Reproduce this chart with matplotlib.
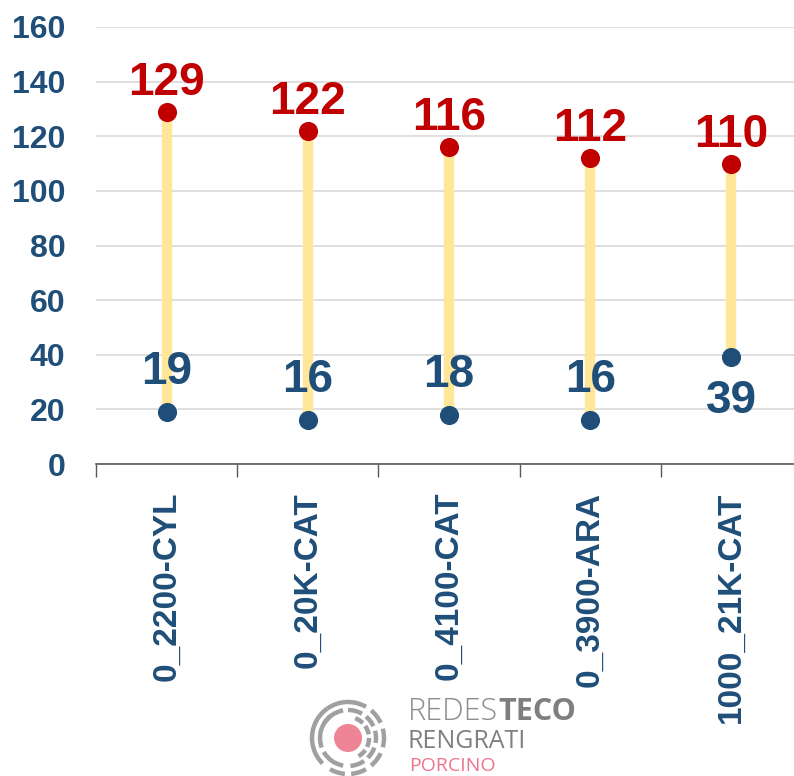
import matplotlib.pyplot as plt
from matplotlib.patches import Circle, Arc

# data
categories = ["0_2200-CYL", "0_20K-CAT", "0_4100-CAT", "0_3900-ARA", "1000_21K-CAT"]
high_vals = [129, 122, 116, 112, 110]
low_vals = [19, 16, 18, 16, 39]
low_label_below = [False, False, False, False, True]
y_ticks = [0, 20, 40, 60, 80, 100, 120, 140, 160]

NAVY = "#1F4E79"
RED = "#C00000"
STEM = "#FFE699"

plt.rcParams['font.family'] = ['Liberation Sans', 'DejaVu Sans']

fig = plt.figure(figsize=(7.94, 7.76), dpi=100)
ax = fig.add_axes([96 / 794, 312 / 776, 706 / 794, 437 / 776])

x = list(range(len(categories)))
ax.vlines(x, low_vals, high_vals, color=STEM, linewidth=7.5, zorder=2)
ax.scatter(x, high_vals, s=190, color=RED, zorder=3, linewidths=0)
ax.scatter(x, low_vals, s=190, color=NAVY, zorder=3, linewidths=0)

for xi, hv, lv, below in zip(x, high_vals, low_vals, low_label_below):
    ax.annotate(str(hv), (xi, hv), xytext=(0, 29), textcoords='offset pixels',
                ha='center', va='center', fontsize=33, fontweight='bold', color=RED)
    dy = -44 if below else 40
    ax.annotate(str(lv), (xi, lv), xytext=(0, dy), textcoords='offset pixels',
                ha='center', va='center', fontsize=33, fontweight='bold', color=NAVY)

ax.set_xlim(-0.5, len(categories) - 0.5)
ax.set_ylim(0, 160)
ax.set_yticks(y_ticks)
ax.set_yticklabels([str(v) for v in y_ticks], fontsize=23, fontweight='bold', color=NAVY)
ax.tick_params(axis='y', length=0, pad=22)
ax.yaxis.grid(True, color="#D9D9D9", linewidth=1.2)
ax.set_axisbelow(True)

ax.set_xticks(x)
ax.set_xticklabels(categories, rotation=90, fontsize=24, fontweight='bold', color=NAVY)
ax.set_xticks([i - 0.5 for i in range(len(categories) + 1)], minor=True)
ax.tick_params(axis='x', which='major', length=0, pad=20)
ax.tick_params(axis='x', which='minor', length=9, width=1, color="#595959", direction='out')

for s in ['left', 'right', 'top']:
    ax.spines[s].set_visible(False)
ax.spines['bottom'].set_color("#595959")
ax.spines['bottom'].set_linewidth(1.2)

# logo
lg = fig.add_axes([0, 0, 1, 1])
lg.set_xlim(0, 794)
lg.set_ylim(776, 0)
lg.axis('off')
cx, cy = 348, 738
lg.add_patch(Circle((cx, cy), 14, color="#EE8596", lw=0))
gray = "#A0A0A0"
# y axis is inverted, so angles run clockwise on screen
rings = [
    (21, [(-70, -45), (-35, -10), (0, 25), (35, 60)]),
    (28, [(-150, -100), (-90, -60), (-50, -25), (-15, 10), (20, 45), (55, 85), (100, 150), (160, 230)]),
    (36, [(-125, -60), (-50, -25), (-15, 15), (25, 50), (60, 85), (95, 120), (135, 235)]),
]
for r, segs in rings:
    for a1, a2 in segs:
        lg.add_patch(Arc((cx, cy), 2 * r, 2 * r, theta1=a1, theta2=a2, color=gray, lw=3.2))
t1 = lg.text(408, 712, "REDES", fontsize=22, color="#8C8C8C", ha='left', va='center',
             family=['Open Sans', 'DejaVu Sans'], fontweight='light')
lg.annotate("TECO", xy=(1, 0.5), xycoords=t1, ha='left', va='center', fontsize=22,
            color="#7F7F7F", family=['Open Sans', 'DejaVu Sans'], fontweight='bold')
lg.text(408, 741, "RENGRATI", fontsize=18, color="#7F7F7F", ha='left', va='center',
        family=['Open Sans', 'DejaVu Sans'])
lg.text(409, 766, "PORCINO", fontsize=14, color="#F0738E", ha='left', va='center',
        family=['Open Sans', 'DejaVu Sans'])

fig.savefig("out.png", dpi=100)
